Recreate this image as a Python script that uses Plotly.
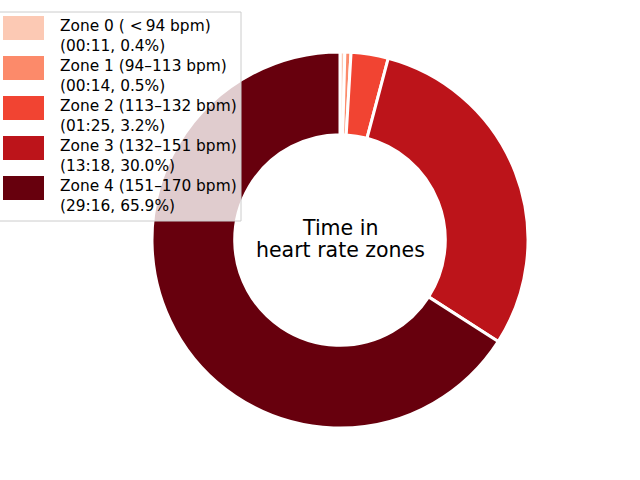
import plotly.graph_objects as go

# Heart rate zone data
zone_names = ["Zone 0", "Zone 1", "Zone 2", "Zone 3", "Zone 4"]
zone_ranges = ["( &lt;\u200994 bpm)", "(94–113 bpm)", "(113–132 bpm)", "(132–151 bpm)", "(151–170 bpm)"]
zone_seconds = [11, 14, 85, 798, 1756]
zone_colors = ["#fcc9b4", "#fc8a6a", "#f14432", "#bc141a", "#67000d"]
center_lines = ["Time in", "heart rate zones"]

W, H = 640, 480
total = sum(zone_seconds)


def mmss(s):
    return f"{s // 60:02d}:{s % 60:02d}"


fig = go.Figure()

fig.add_trace(go.Pie(
    values=zone_seconds,
    labels=zone_names,
    marker=dict(colors=zone_colors, line=dict(color="white", width=3)),
    hole=0.56,
    sort=False,
    direction="clockwise",
    rotation=0,
    textinfo="none",
    hoverinfo="label+percent",
    showlegend=False,
    domain=dict(x=[152 / W, 528 / W], y=[1 - 428 / H, 1 - 52 / H]),
))

# centre label (one annotation per line to keep matplotlib's tighter spacing)
for j, line in enumerate(center_lines):
    fig.add_annotation(
        x=340 / W, y=1 - (228 + 22 * j) / H, xref="paper", yref="paper",
        text=line, showarrow=False, yanchor="middle",
        font=dict(size=20.5, color="black"),
    )

# ── Legend (drawn by hand to get matplotlib-sized swatches) ──
fig.add_shape(
    type="rect", xref="paper", yref="paper",
    x0=-5 / W, x1=241 / W, y0=1 - 221 / H, y1=1 - 12 / H,
    fillcolor="rgba(255,255,255,0.8)", line=dict(color="#cccccc", width=1),
    layer="above",
)
for i, (name, rng, sec, col) in enumerate(zip(zone_names, zone_ranges, zone_seconds, zone_colors)):
    top = 16 + 40 * i
    fig.add_shape(
        type="rect", xref="paper", yref="paper",
        x0=3 / W, x1=44 / W, y0=1 - (top + 24) / H, y1=1 - top / H,
        fillcolor=col, line=dict(width=0), layer="above",
    )
    pct = 100 * sec / total
    fig.add_annotation(
        x=58 / W, y=1 - (top + 20) / H, xref="paper", yref="paper",
        xanchor="left", yanchor="middle", align="left", showarrow=False,
        text=f"{name} {rng}<br>({mmss(sec)}, {pct:.1f}%)",
        font=dict(size=15.4, color="black"),
    )

fig.update_layout(
    width=W, height=H,
    margin=dict(l=0, r=0, t=0, b=0),
    paper_bgcolor="white",
    plot_bgcolor="white",
    font=dict(family="DejaVu Sans"),
)

fig.write_html("out.html", config={"displayModeBar": False},
               post_script="document.body.style.margin='0';")
